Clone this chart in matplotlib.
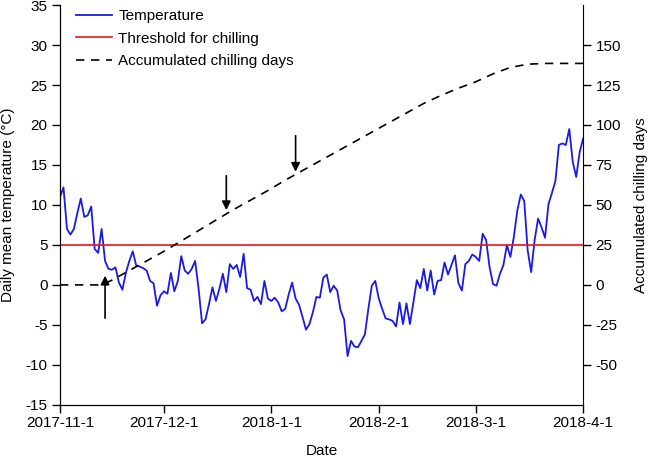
import numpy as np
import pandas as pd
import matplotlib
matplotlib.use("Agg")
import matplotlib.pyplot as plt
import matplotlib.dates as mdates

plt.rcParams['font.family'] = ['Liberation Sans', 'DejaVu Sans']
plt.rcParams['axes.unicode_minus'] = False

# daily mean temperature, 2017-11-1 .. 2018-4-1
temp = [11.0, 12.2, 7.0, 6.3, 7.0, 9.0, 10.8, 8.5, 8.7, 9.8,
        4.5, 4.0, 7.0, 3.0, 2.0, 1.9, 2.2, 0.3, -0.6, 1.5,
        3.0, 4.2, 2.4, 2.3, 2.1, 1.8, 0.5, 0.2, -2.6, -1.3,
        -0.8, -1.1, 1.5, -0.8, 0.5, 3.6, 1.8, 1.4, 2.0, 3.0,
        -0.5, -4.8, -4.3, -2.4, -0.3, -2.0, -0.5, 1.4, -0.9, 2.6,
        2.0, 2.5, 1.0, 3.9, -0.4, -0.6, -2.0, -1.5, -2.4, 0.5,
        -1.7, -2.0, -1.6, -2.2, -3.3, -3.0, -1.2, 0.3, -1.7, -2.5,
        -4.0, -5.6, -4.9, -3.4, -1.5, -1.6, 0.9, 1.3, -0.9, -0.1,
        -0.7, -3.2, -4.3, -8.9, -7.0, -7.7, -7.8, -7.0, -6.2, -3.0,
        -0.1, 0.5, -1.7, -3.0, -4.2, -4.3, -4.5, -5.2, -2.2, -4.9,
        -2.3, -4.9, -2.2, 0.6, -0.4, 2.0, -0.7, 1.8, -1.2, 0.5,
        0.6, 2.8, 1.3, 2.5, 3.7, 0.2, -0.7, 2.6, 3.0, 3.8,
        3.5, 3.0, 6.4, 5.6, 2.2, 0.1, -0.1, 1.4, 2.5, 5.0,
        3.5, 6.0, 9.3, 11.3, 10.5, 4.3, 1.6, 5.6, 8.3, 7.2,
        5.9, 10.1, 11.5, 13.0, 17.5, 17.7, 17.5, 19.5, 15.4, 13.5,
        16.6, 18.3]
dates = pd.date_range("2017-11-01", periods=len(temp), freq="D")

# accumulated chilling days (read at selected dates)
chill_dates = pd.to_datetime([
    "2017-11-01", "2017-11-12", "2017-11-14", "2017-11-16", "2017-11-21",
    "2017-11-26", "2017-12-01", "2017-12-06", "2017-12-11", "2017-12-16",
    "2017-12-21", "2017-12-26", "2017-12-31", "2018-01-05", "2018-01-10",
    "2018-01-15", "2018-01-20", "2018-01-25", "2018-01-30", "2018-02-04",
    "2018-02-09", "2018-02-14", "2018-02-19", "2018-02-24", "2018-03-01",
    "2018-03-06", "2018-03-11", "2018-03-16", "2018-03-21", "2018-04-01"])
chill = [0, 0, 1, 3, 9, 15, 21, 27.5, 34, 40.5,
         47, 53, 59, 65.5, 71.5, 77.5, 83.5, 89.5, 95.5, 101.5,
         107.5, 113.5, 118.5, 123, 127, 132, 136, 138, 138.5, 138.5]

threshold = 5

fig = plt.figure(figsize=(6.49, 4.58), dpi=100)
ax = fig.add_axes([0.0925, 0.116, 0.806, 0.873])
ax2 = ax.twinx()

l1, = ax.plot(dates, temp, color='#1a1ae6', lw=1.3, label='Temperature')
l2 = ax.axhline(threshold, color='#e8141c', lw=1.2, label='Threshold for chilling')
l3, = ax2.plot(chill_dates, chill, color='black', lw=1.2, ls=(0, (5, 4)),
               label='Accumulated chilling days')

ax.set_xlim(dates[0], dates[-1])
ax.set_ylim(-15, 35)
ax.set_yticks(np.arange(-15, 36, 5))
ax2.set_ylim(-75, 175)
ax2.set_yticks(np.arange(-50, 151, 25))

ax.xaxis.set_major_locator(mdates.MonthLocator())
ax.xaxis.set_major_formatter(plt.FuncFormatter(
    lambda v, p: (lambda d: f"{d.year}-{d.month}-{d.day}")(mdates.num2date(v))))

for a in (ax, ax2):
    a.spines['top'].set_visible(False)
    a.tick_params(direction='out', length=6, width=1, labelsize=11, pad=3)
ax.tick_params(axis='x', pad=2)
ax.spines['right'].set_visible(False)

ax.set_xlabel('Date', fontsize=11, labelpad=10)
ax.set_ylabel('Daily mean temperature (\u00b0C)', fontsize=11, va='center')
ax.yaxis.set_label_coords(-0.099, 0.5)
ax2.set_ylabel('Accumulated chilling days', fontsize=11, va='center')
ax2.yaxis.set_label_coords(1.11, 0.5)

# arrows
arrow = dict(arrowstyle='-|>', color='black', lw=1.2, mutation_scale=13)
ax.annotate('', xy=(pd.Timestamp("2017-11-14"), 1.5),
            xytext=(pd.Timestamp("2017-11-14"), -4.5), arrowprops=arrow)
ax.annotate('', xy=(pd.Timestamp("2017-12-19"), 9.0),
            xytext=(pd.Timestamp("2017-12-19"), 14.0), arrowprops=arrow)
ax.annotate('', xy=(pd.Timestamp("2018-01-08"), 13.8),
            xytext=(pd.Timestamp("2018-01-08"), 19.0), arrowprops=arrow)

ax.legend(handles=[l1, l2, l3], loc='upper left', frameon=False,
          fontsize=11, handlelength=2.4, borderaxespad=0.0,
          bbox_to_anchor=(0.018, 1.005), labelspacing=0.55, handletextpad=0.4)

fig.savefig('out.png', dpi=100)
